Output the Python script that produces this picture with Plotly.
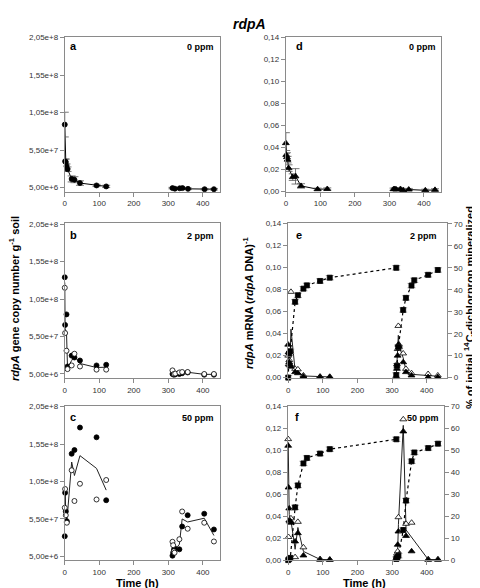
import numpy as np
import plotly.graph_objects as go

# ---------------- data ----------------
# Panel a: 0 ppm, rdpA gene copies (mean, error)
ta1 = [0, 1, 3, 5, 8, 20, 28, 44, 92, 120]
a1 = [8.9e7, 4.0e7, 3.9e7, 3.35e7, 2.95e7, 1.65e7, 1.55e7, 1.1e7, 7.8e6, 6.5e6]
a1_err = [1.65e7, 3e6, 4e6, 3e6, 3e6, 4e6, 4e6, 3e6, 1.5e6, 1.5e6]
ta2 = [312, 319, 333, 341, 357, 405, 432]
a2 = [4.3e6, 3.5e6, 4.0e6, 4.3e6, 3.3e6, 2.8e6, 2.8e6]
a2_err = [1e6, 1e6, 1e6, 1e6, 1e6, 1e6, 1e6]

# Panel b: 2 ppm, replicate 1 (filled) and 2 (open)
tb1 = [0, 1, 5, 8, 20, 28, 44, 92, 120]
b_fill1 = [1.34e8, 7.05e7, 8.45e7, 1.5e7, 2.95e7, 2.7e7, 2.3e7, 1.64e7, 1.73e7]
b_open1 = [1.2e8, 5.96e7, 3.6e7, 1.15e7, 1.64e7, 3.2e7, 1.5e7, 1.08e7, 1.08e7]
tb2 = [312, 316, 320, 332, 340, 356, 404, 432]
b_fill2 = [5e6, 4e6, 4.5e6, 5e6, 6e6, 7e6, 4e6, 4e6]
b_open2 = [9.8e6, 5e6, 5.5e6, 7e6, 7.6e6, 7.6e6, 5e6, 5e6]

# Panel c: 50 ppm
tc1 = [0, 1, 3, 6, 20, 28, 44, 92, 120]
c_fill1 = [3.2e7, 9.0e7, 6.5e7, 5.2e7, 1.42e8, 1.47e8, 1.77e8, 1.64e8, 8.0e7]
c_open1 = [7.0e7, 9.5e7, 6.0e7, 5.0e7, 1.2e8, 7.9e7, 1.02e8, 8.1e7, 1.07e8]
tc2 = [312, 314, 316, 318, 332, 340, 356, 404, 432]
c_fill2 = [6e6, 1.0e7, 1.35e7, 1.6e7, 1.45e7, 4.5e7, 6.0e7, 6.2e7, 4.1e7]
c_open2 = [2.46e7, 2.0e7, 1.2e7, 1.0e7, 2.8e7, 6.5e7, 4.2e7, 5.0e7, 2.5e7]

# Panel d: 0 ppm, mRNA/DNA
td1 = [0, 1, 3, 5, 8, 20, 28, 44, 92, 120]
d1 = [0.0437, 0.033, 0.031, 0.0287, 0.021, 0.0128, 0.0135, 0.0048, 0.0018, 0.002]
d1_err = [0.0095, 0.004, 0.004, 0.003, 0.003, 0.003, 0.007, 0.002, 0.001, 0.001]
td2 = [312, 316, 320, 332, 340, 356, 404, 432]
d2 = [0.0018, 0.002, 0.0015, 0.002, 0.0008, 0.0015, 0.0008, 0.0012]
d2_err = [0.001, 0.001, 0.001, 0.001, 0.001, 0.001, 0.001, 0.001]

# Panel e: 2 ppm, mRNA/DNA replicates
te1 = [0, 1, 3, 5, 8, 20, 28, 44, 92, 120]
e_fill1 = [0.030, 0.023, 0.014, 0.012, 0.010, 0.005, 0.004, 0.001, 0.0005, 0.0005]
e_open1 = [0.020, 0.012, 0.016, 0.011, 0.078, 0.008, 0.0075, 0.002, 0.001, 0.0008]
te2 = [312, 314, 316, 318, 320, 332, 340, 356, 404, 432]
e_fill2 = [0.0005, 0.008, 0.020, 0.030, 0.028, 0.014, 0.005, 0.002, 0.0005, 0.0005]
e_open2 = [0.001, 0.012, 0.026, 0.047, 0.030, 0.022, 0.008, 0.004, 0.0033, 0.002]

# Panel f: 50 ppm, mRNA/DNA replicates
tf1 = [0, 1, 3, 5, 8, 20, 28, 44, 92, 120]
f_fill1 = [0.104, 0.066, 0.047, 0.036, 0.034, 0.017, 0.0245, 0.0042, 0.0003, 0.0003]
f_open1 = [0.110, 0.021, 0.036, 0.035, 0.038, 0.0027, 0.0348, 0.0116, 0.001, 0.0005]
tf2 = [312, 314, 316, 318, 332, 340, 356, 404, 432]
f_fill2 = [0.001, 0.004, 0.014, 0.026, 0.117, 0.022, 0.008, 0.0003, 0.0003]
f_open2 = [0.002, 0.006, 0.008, 0.039, 0.128, 0.033, 0.034, 0.0008, 0.0008]

# Mineralization (% of initial 14C-dichlorprop)
tm1 = [0, 3, 6, 20, 28, 44, 54, 92, 120, 312]
tm2 = [312, 314, 318, 332, 340, 356, 364, 404, 432]
e_min1 = [0, 11, 12, 34.5, 37.5, 40.5, 42, 44, 45.5, 50]
e_min2 = [1.2, 5.4, 13.9, 30.8, 36.3, 41.9, 44.3, 46.8, 49.0]
f_min1 = [0, 0.5, 1, 24, 34, 44, 46.5, 48.5, 50.5, 55]
f_min2 = [0.5, 1, 2, 13.7, 27.1, 45, 49, 51, 53]
min_err = 1.0

dna_tickvals = [5e6, 5.5e7, 1.05e8, 1.55e8, 2.05e8]
dna_ticktext = ["5,00e+6", "5,50e+7", "1,05e+8", "1,55e+8", "2,05e+8"]
x_ticks = [0, 100, 200, 300, 400]

# ---------------- layout helpers ----------------
W, H = 480, 588
FONT = "Arial, Liberation Sans, sans-serif"
AX = "#8a8a8a"


def fx(p):
    return p / W


def fy(p):
    return 1 - p / H


# pixel boxes: (left, right, top, bottom)
boxes = {
    1: (55, 211, 25, 182),      # a
    2: (55, 211, 214, 371),     # b
    3: (55, 211, 399, 556),     # c
    4: (277, 433, 25, 182),     # d
    5: (279, 439, 214, 371),    # e
    6: (279, 436, 399, 556),    # f
}
xranges = {1: [0, 450], 2: [0, 450], 3: [0, 450], 4: [0, 450],
           5: [-1, 459], 6: [-1, 450]}

fig = go.Figure()
layout = dict(width=W, height=H, margin=dict(l=0, r=0, t=0, b=0),
              plot_bgcolor="white", paper_bgcolor="white", showlegend=False,
              separators=",.", font=dict(family=FONT, size=8, color="#333"))

for k, (l, r, t, b) in boxes.items():
    xa = dict(domain=[fx(l), fx(r)], range=xranges[k], anchor=f"y{k}",
              showline=True, linecolor=AX, linewidth=1, mirror=True,
              ticks="outside", ticklen=4, tickcolor=AX, tickvals=x_ticks,
              showgrid=False, zeroline=False,
              tickfont=dict(size=8, color="#333", family=FONT))
    ya = dict(domain=[fy(b), fy(t)], anchor=f"x{k}",
              showline=True, linecolor=AX, linewidth=1, mirror=True,
              ticks="outside", ticklen=4, tickcolor=AX,
              showgrid=False, zeroline=False,
              tickfont=dict(size=8, color="#333", family=FONT))
    if k <= 3:
        ya.update(range=[-3e5, 2.063e8], tickvals=dna_tickvals, ticktext=dna_ticktext)
    else:
        ya.update(range=[-0.0003, 0.1405], tickvals=[0, 0.02, 0.04, 0.06, 0.08, 0.10, 0.12, 0.14],
                  tickformat=".2f")
    layout[f"xaxis{k}"] = xa
    layout[f"yaxis{k}"] = ya

# right axes for e and f
for k, base in ((7, 5), (8, 6)):
    layout[f"yaxis{k}"] = dict(overlaying=f"y{base}", side="right", anchor=f"x{base}",
                               range=[-0.15, 70.35], tickvals=list(range(0, 71, 10)),
                               showline=True, linecolor=AX, ticks="outside", ticklen=4,
                               tickcolor=AX, showgrid=False, zeroline=False,
                               tickfont=dict(size=8, color="#333", family=FONT))


def join(t1, v1, t2, v2):
    return list(t1) + [None] + list(t2), list(v1) + [None] + list(v2)


def line(k, x, y, color="#222", dash="solid", width=1, yax=None):
    fig.add_trace(go.Scatter(x=x, y=y, mode="lines", connectgaps=False,
                             line=dict(color=color, dash=dash, width=width),
                             xaxis=f"x{k}", yaxis=yax or f"y{k}", cliponaxis=False,
                             hoverinfo="skip"))


def pts(k, x, y, symbol, filled=True, size=5, err=None, yax=None, errcolor="#555"):
    marker = dict(symbol=symbol, size=size,
                  color="black" if filled else "white",
                  line=dict(color="black", width=0.8))
    kw = {}
    if err is not None:
        kw["error_y"] = dict(type="data", array=err, color=errcolor, thickness=0.8, width=4)
    fig.add_trace(go.Scatter(x=x, y=y, mode="markers", marker=marker,
                             xaxis=f"x{k}", yaxis=yax or f"y{k}", cliponaxis=False,
                             hoverinfo="skip", **kw))


# panel a
x, y = join(ta1, a1, ta2, a2)
line(1, x, y, color="black")
pts(1, ta1, a1, "circle", err=a1_err)
pts(1, ta2, a2, "circle", err=a2_err)

# panels b, c (two replicates, line = mean)
for k, (t1, f1, o1, t2, f2, o2) in {2: (tb1, b_fill1, b_open1, tb2, b_fill2, b_open2),
                                     3: (tc1, c_fill1, c_open1, tc2, c_fill2, c_open2)}.items():
    m1 = (np.array(f1) + np.array(o1)) / 2
    m2 = (np.array(f2) + np.array(o2)) / 2
    x, y = join(t1, m1, t2, m2)
    line(k, x, y)
    pts(k, t1 + t2, f1 + f2, "circle", filled=True)
    pts(k, t1 + t2, o1 + o2, "circle", filled=False)

# panel d
x, y = join(td1, d1, td2, d2)
line(4, x, y, color="black")
pts(4, td1, d1, "triangle-up", err=d1_err, size=6)
pts(4, td2, d2, "triangle-up", err=d2_err, size=6)

# panels e, f
for k, yr, (t1, f1, o1, t2, f2, o2, mn1, mn2) in (
        (5, "y7", (te1, e_fill1, e_open1, te2, e_fill2, e_open2, e_min1, e_min2)),
        (6, "y8", (tf1, f_fill1, f_open1, tf2, f_fill2, f_open2, f_min1, f_min2))):
    # mineralization (right axis)
    x, y = join(tm1, mn1, tm2, mn2)
    line(k, x, y, color="black", dash="dot", width=1.2, yax=yr)
    pts(k, tm1 + tm2, mn1 + mn2, "square", size=5, yax=yr,
        err=[min_err] * (len(tm1) + len(tm2)), errcolor="#999")
    # mRNA (left axis)
    m1 = (np.array(f1) + np.array(o1)) / 2
    m2 = (np.array(f2) + np.array(o2)) / 2
    x, y = join(t1, m1, t2, m2)
    line(k, x, y)
    pts(k, t1 + t2, o1 + o2, "triangle-up", filled=False, size=6)
    pts(k, t1 + t2, f1 + f2, "triangle-up", filled=True, size=6)

# ---------------- annotations ----------------
ann = []


def text(xp, yp, s, size=9, bold=True, angle=0, xanchor="center", yanchor="middle"):
    if bold:
        s = f"<b>{s}</b>"
    ann.append(dict(x=fx(xp), y=fy(yp), xref="paper", yref="paper", text=s,
                    showarrow=False, textangle=angle, xanchor=xanchor, yanchor=yanchor,
                    borderpad=0, font=dict(family=FONT, size=size, color="black")))


text(240, 12, "<i>rdpA</i>", size=14)
for lab, (xp, yp) in {"a": (59, 34), "b": (59, 226), "c": (59, 411),
                      "d": (286, 34), "e": (286, 226), "f": (285, 411)}.items():
    text(xp, yp, lab, size=11, xanchor="left")
for s, (xp, yp) in {"0 ppm": (206, 35), "2 ppm": (206, 227), "50 ppm": (206, 412),
                    "0 ppm ": (429, 35), "2 ppm ": (430, 227), "50 ppm ": (432, 412)}.items():
    text(xp, yp, s.strip(), size=9, xanchor="right")

text(128, 579, "Time (h)", size=11)
text(356, 579, "Time (h)", size=11)
text(4, 290, "<i>rdpA</i> gene copy number g<sup>-1</sup> soil", size=11, angle=-90)
text(239, 295, "<i>rdpA</i> mRNA (<i>rdpA</i> DNA)<sup>-1</sup>", size=11, angle=-90)
text(461, 300, "% of initial <sup>14</sup>C-dichlorprop mineralized", size=11, angle=-90)

layout["annotations"] = ann
fig.update_layout(**layout)
fig.write_html("out.html")
